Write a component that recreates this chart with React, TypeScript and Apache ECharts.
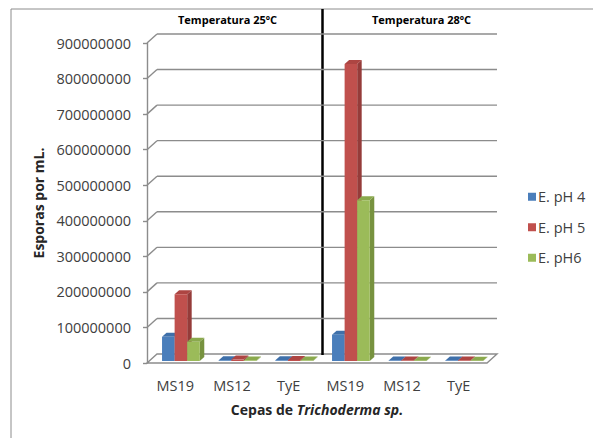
import React, { useEffect, useRef } from "react";
import * as echarts from "echarts";

const CATEGORIES = ["MS19", "MS12", "TyE", "MS19", "MS12", "TyE"];
const SERIES_NAMES = ["E. pH 4", "E. pH 5", "E. pH6"];
const PH4 = [68000000, 2000000, 2000000, 74000000, 1500000, 1500000];
const PH5 = [188000000, 4000000, 3000000, 835000000, 1500000, 1500000];
const PH6 = [54000000, 1500000, 1500000, 452000000, 1000000, 1000000];
const Y_TICKS = [0, 100000000, 200000000, 300000000, 400000000, 500000000, 600000000, 700000000, 800000000, 900000000];
const PANEL_TITLES = ["Temperatura 25ºC", "Temperatura 28ºC"];

const FRONT = ["#4a7ebb", "#c0504d", "#9bbb59"];
const SIDE = ["#36609a", "#953c3a", "#77923f"];
const TOP = ["#3f70aa", "#ad4542", "#8aa94d"];

const FONT = "'Open Sans', 'Noto Sans', sans-serif";
const DX = 10;
const DY = 9;

export default function App() {
  const ref = useRef<HTMLDivElement>(null);
  useEffect(() => {
    if (!ref.current) return;
    const chart = echarts.init(ref.current, undefined, { renderer: "svg" });
    const seriesData = [PH4, PH5, PH6];

    const bgSeries: any = {
      type: "custom",
      name: "bg",
      z: 1,
      silent: true,
      data: Y_TICKS.map((v) => [0, v]),
      renderItem: (params: any, api: any) => {
        const cs = params.coordSys;
        const v = api.value(1);
        const p = api.coord([0, v]);
        const y = p[1];
        const x0 = cs.x;
        const x1 = cs.x + cs.width;
        const stroke = { stroke: "#8c8c8c", lineWidth: 1.4 };
        const children: any[] = [];
        if (v === 0) {
          children.push({
            type: "polygon",
            shape: { points: [[x0, y], [x0 + DX, y - DY], [x1 + DX, y - DY], [x1, y]] },
            style: { fill: "#ffffff", ...stroke },
          });
          const xm = cs.x + cs.width / 2 + 5.5;
          children.push({
            type: "line",
            shape: { x1: xm, y1: cs.y - 34, x2: xm, y2: y - DY + 1 },
            style: { stroke: "#000000", lineWidth: 2.5 },
          });
        } else {
          children.push({
            type: "line",
            shape: { x1: x0, y1: y, x2: x0 + DX, y2: y - DY },
            style: stroke,
          });
          children.push({
            type: "line",
            shape: { x1: x0 + DX, y1: y - DY, x2: x1 + DX, y2: y - DY },
            style: stroke,
          });
        }
        return { type: "group", children };
      },
    };

    const barSeries = seriesData.map((vals, s) => ({
      type: "custom",
      name: SERIES_NAMES[s],
      z: 2,
      itemStyle: { color: FRONT[s] },
      data: vals.map((v, i) => [i, v]),
      renderItem: (params: any, api: any) => {
        const cat = api.value(0);
        const val = api.value(1);
        const base = api.coord([cat, 0]);
        const top = api.coord([cat, val]);
        const band = api.size([1, 0])[0];
        const bw = band * 0.222;
        const fx = 2;
        const fy = 2;
        const d = 4.5;
        const dv = 4;
        const x0 = base[0] - band * 0.27 + s * bw + fx;
        const yb = base[1] - fy;
        const yt = top[1] - fy;
        return {
          type: "group",
          children: [
            {
              type: "polygon",
              shape: { points: [[x0 + bw, yt], [x0 + bw + d, yt - dv], [x0 + bw + d, yb - dv], [x0 + bw, yb]] },
              style: { fill: SIDE[s] },
            },
            {
              type: "polygon",
              shape: { points: [[x0, yt], [x0 + d, yt - dv], [x0 + bw + d, yt - dv], [x0 + bw, yt]] },
              style: { fill: TOP[s] },
            },
            {
              type: "rect",
              shape: { x: x0, y: yt, width: bw, height: Math.max(yb - yt, 0) },
              style: { fill: FRONT[s] },
            },
          ],
        };
      },
    }));

    chart.setOption({
      animation: false,
      backgroundColor: "#ffffff",
      grid: { left: 147, right: 106, top: 43, bottom: 75 },
      xAxis: {
        type: "category",
        data: CATEGORIES,
        axisLine: { show: false },
        axisTick: { show: false },
        axisLabel: { color: "#404040", fontSize: 14.5, fontFamily: FONT, margin: 15 },
        name: "{a|Cepas de }{b|Trichoderma sp.}",
        nameLocation: "middle",
        nameGap: 39,
        nameTextStyle: {
          rich: {
            a: { fontWeight: "bold", fontSize: 14, color: "#262626", fontFamily: FONT },
            b: { fontWeight: "bold", fontStyle: "italic", fontSize: 14, color: "#262626", fontFamily: FONT },
          },
        },
      },
      yAxis: {
        type: "value",
        min: 0,
        max: 900000000,
        interval: 100000000,
        axisLine: { show: true, lineStyle: { color: "#8c8c8c", width: 1.4 } },
        axisTick: { show: true, length: 4, lineStyle: { color: "#8c8c8c", width: 1.4 } },
        splitLine: { show: false },
        axisLabel: {
          color: "#404040",
          fontSize: 14.5,
          fontFamily: FONT,
          margin: 16,
          formatter: (v: number) => String(v),
        },
        name: "Esporas por mL.",
        nameLocation: "middle",
        nameGap: 93,
        nameTextStyle: { fontWeight: "bold", fontSize: 14, color: "#262626", fontFamily: FONT },
      },
      legend: {
        orient: "vertical",
        left: 523,
        top: 183,
        itemWidth: 8,
        itemHeight: 8,
        itemGap: 13,
        selectedMode: false,
        icon: "rect",
        textStyle: { color: "#404040", fontSize: 14.5, fontFamily: FONT, lineHeight: 17.5, padding: [0, 0, 0, -3] },
        data: SERIES_NAMES.map((n, i) => ({ name: n, itemStyle: { color: FRONT[i] } })),
      },
      graphic: [
        {
          type: "rect",
          silent: true,
          shape: { x: 11, y: 9, width: 640, height: 480 },
          style: { fill: "none", stroke: "#8c8c8c", lineWidth: 1 },
        },
        {
          type: "text",
          left: 178,
          top: 14,
          style: { text: PANEL_TITLES[0], fontSize: 11, fontWeight: "bold", fill: "#000000", fontFamily: FONT },
        },
        {
          type: "text",
          left: 372,
          top: 14,
          style: { text: PANEL_TITLES[1], fontSize: 11, fontWeight: "bold", fill: "#000000", fontFamily: FONT },
        },
      ],
      series: [bgSeries, ...barSeries],
    });
    return () => chart.dispose();
  }, []);
  return <div ref={ref} style={{ position: "absolute", left: 0, top: 0, width: 593, height: 438 }} />;
}
